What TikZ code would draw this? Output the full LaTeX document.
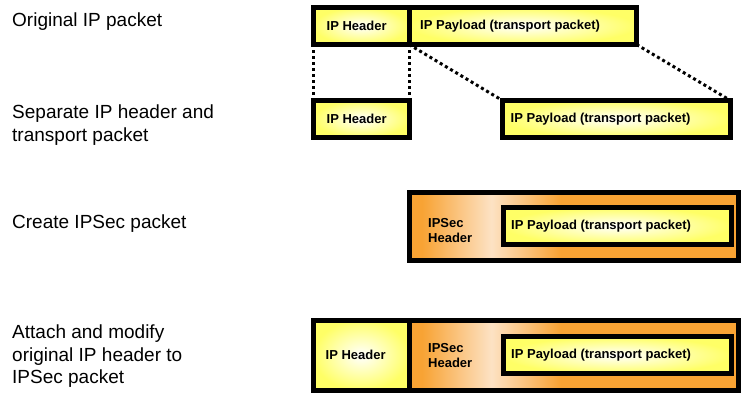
\documentclass[tikz,border=0pt]{standalone}
\usepackage{fontspec}
\setmainfont{Liberation Sans}
\usepackage{xcolor}
\usetikzlibrary{positioning}
\definecolor{ipyellow}{RGB}{255,255,102}
\definecolor{iporange}{RGB}{248,163,52}
\definecolor{ippeach}{RGB}{253,226,196}
\pgfdeclarehorizontalshading{secglow}{100bp}{color(0bp)=(iporange); color(27bp)=(iporange);
  color(37.5bp)=(ippeach); color(48bp)=(iporange); color(100bp)=(iporange)}
\tikzset{
  box/.style  ={rectangle, draw=black, line width=5pt, inner sep=0pt, outer sep=0pt},
  hdr/.style  ={box, inner color=white, outer color=ipyellow, minimum width=95.5pt},
  pay/.style  ={box, inner color=white, outer color=ipyellow, minimum height=37pt},
  sec/.style  ={box, shading=secglow},
  tag/.style  ={inner sep=0pt, font=\fontsize{13}{15}\selectfont\bfseries, align=left},
  note/.style ={inner sep=0pt, font=\fontsize{19}{22.5}\selectfont, align=left, anchor=north west},
  dots/.style ={line width=3pt, dash pattern=on 3pt off 3pt},
}
\begin{document}
\begin{tikzpicture}[x=1pt, y=-1pt]
  \useasboundingbox (0,0) rectangle (741,393);

  % steps
  \node[note] (t1) at (12,13)  {Original IP packet};
  \node[note] (t2) at (12,105) {Separate IP header and\\transport packet};
  \node[note] (t3) at (12,215) {Create IPSec packet};
  \node[note] (t4) at (12,325) {Attach and modify\\original IP header to\\IPSec packet};

  % original packet
  \node[hdr, anchor=north west, minimum height=37pt] (hdrA) at (313.5,7.5) {};
  \node[pay, right=0pt of hdrA, minimum width=227.5pt] (payA) {};

  % split
  \node[hdr, anchor=north west, minimum height=37pt] (hdrB) at (313.5,100.5) {};
  \node[pay, anchor=north west, minimum width=228pt] (payB) at (502.5,100.5) {};

  % ipsec packet
  \node[sec, anchor=north west, minimum width=329.5pt, minimum height=68pt] (secC) at (409,192) {};
  \node[pay, right=94pt of secC.west, minimum width=228pt] (payC) {};

  % final packet
  \node[hdr, anchor=north west, minimum height=70.5pt] (hdrD) at (313.5,320) {};
  \node[sec, right=0pt of hdrD, minimum width=329.5pt, minimum height=70.5pt] (secD) {};
  \node[pay, right=94pt of secD.west, minimum width=228pt] (payD) {};

  % labels
  \node[tag, right=13pt of hdrA.west] (lhA) {IP Header};
  \node[tag, right=11pt of payA.west] (lpA) {IP Payload (transport packet)};
  \node[tag, right=13pt of hdrB.west] (lhB) {IP Header};
  \node[tag, right=8pt of payB.west]  (lpB) {IP Payload (transport packet)};
  \node[tag, right=19pt of secC.west, yshift=-5pt] (lsC) {IPSec\\Header};
  \node[tag, right=8pt of payC.west]  (lpC) {IP Payload (transport packet)};
  \node[tag, right=12pt of hdrD.west] (lhD) {IP Header};
  \node[tag, right=19pt of secD.west] (lsD) {IPSec\\Header};
  \node[tag, right=8pt of payD.west]  (lpD) {IP Payload (transport packet)};

  \draw[dots] (hdrA.south west) -- (hdrB.north west);
  \draw[dots] (hdrA.south east) -- (hdrB.north east);
  \draw[dots] (payA.south west) -- (payB.north west);
  \draw[dots] (payA.south east) -- (payB.north east);

\end{tikzpicture}
\end{document}
